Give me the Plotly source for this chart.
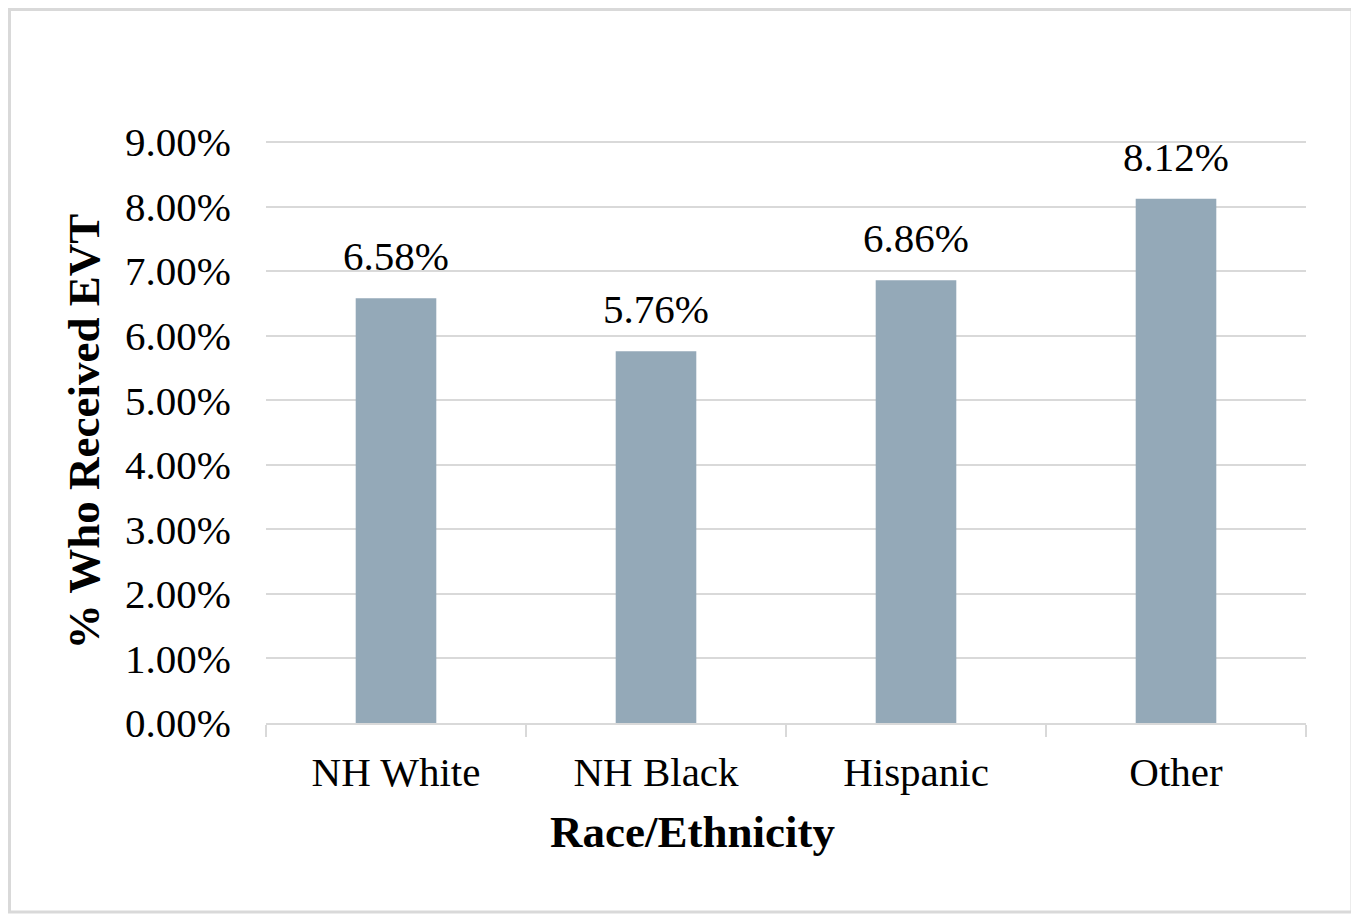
import plotly.graph_objects as go

categories = ["NH White", "NH Black", "Hispanic", "Other"]
values = [0.0658, 0.0576, 0.0686, 0.0812]
labels = ["6.58%", "5.76%", "6.86%", "8.12%"]

OFF = 8  # page body margin
W, H = 1359 - OFF, 919 - OFF
# plot area in figure pixels (9% gridline at page y 142, 0% at page y 723)
L, R = 266 - OFF, 1306 - OFF
B = 723 - OFF
top9 = 142 - OFF
scale = (B - top9) / 0.09          # px per unit
extra = 2                           # keep top gridline inside the plot area
T = top9 - extra
ymax = 0.09 + extra / scale
pw, ph = R - L, B - T

font_family = "Liberation Serif, Times New Roman, serif"

fig = go.Figure(go.Bar(
    x=categories, y=values,
    marker=dict(color="#94A9B8", line=dict(width=0)),
    width=0.31, hoverinfo="skip",
))

annotations = [
    dict(x=c, y=v, text=t, xref="x", yref="y", showarrow=False,
         yanchor="bottom", yshift=17,
         font=dict(family=font_family, size=41, color="#000000"))
    for c, v, t in zip(categories, values, labels)
]
annotations.append(dict(
    text="<b>Race/Ethnicity</b>", xref="paper", yref="paper",
    x=(692 - OFF - L) / pw, y=(B - (832 - OFF)) / ph,
    xanchor="center", yanchor="middle", showarrow=False,
    font=dict(family=font_family, size=45, color="#000000"),
))

fig.update_layout(
    width=W, height=H,
    margin=dict(l=L, r=W - R, t=T, b=H - B, autoexpand=False),
    paper_bgcolor="white", plot_bgcolor="white",
    showlegend=False,
    font=dict(family=font_family, size=41, color="#000000"),
    annotations=annotations,
    xaxis=dict(
        showline=True, linecolor="#D9D9D9", linewidth=2,
        ticks="outside", tickson="boundaries", ticklen=12, tickwidth=2, tickcolor="#D9D9D9",
        ticklabelstandoff=12,
        tickfont=dict(family=font_family, size=41, color="#000000"),
        automargin=False,
    ),
    yaxis=dict(
        range=[0, ymax], dtick=0.01, tickformat=".2%",
        showgrid=True, gridcolor="#D9D9D9", gridwidth=2,
        zeroline=False, showline=False, ticks="",
        ticklabelstandoff=34,
        tickfont=dict(family=font_family, size=41, color="#000000"),
        title=dict(text="<b>% Who Received EVT</b>", font=dict(family=font_family, size=45), standoff=11),
        automargin=False,
    ),
    shapes=[dict(
        type="rect", xref="paper", yref="paper",
        x0=(1.5 - L) / pw, x1=(1352 - OFF - L) / pw,
        y0=(B - (912 - OFF)) / ph, y1=(B - 1.5) / ph,
        line=dict(color="#D9D9D9", width=3), layer="below",
    )],
)

fig.write_html("out.html")
